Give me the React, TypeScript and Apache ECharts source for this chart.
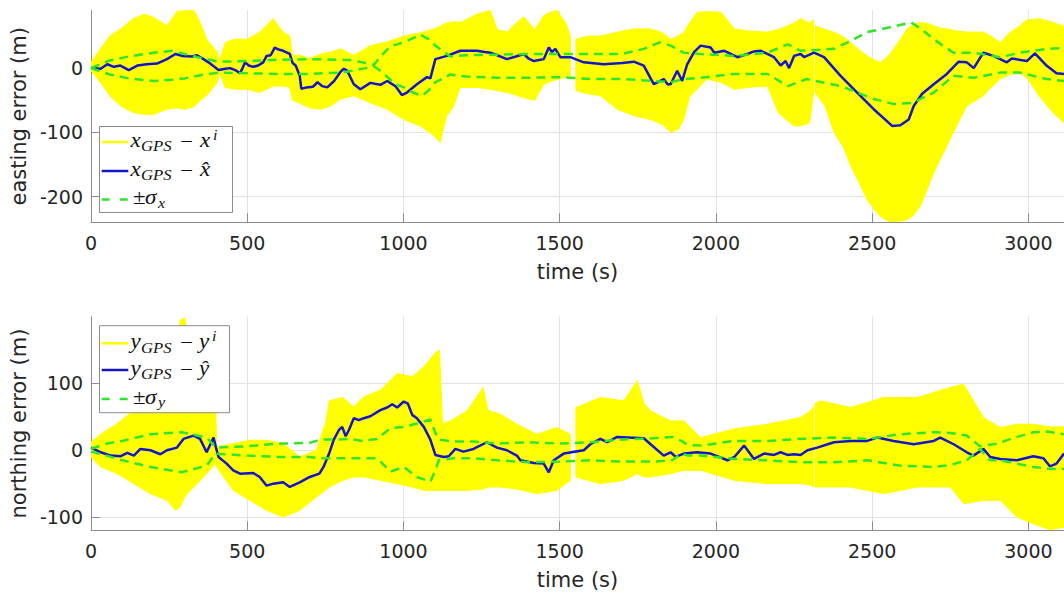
import React, { useEffect, useRef } from "react";
import * as echarts from "echarts";

// ---------- axes ----------
const X_MAX = 3114;
const xTicks = [0, 500, 1000, 1500, 2000, 2500, 3000];
const topYTicks = [-200, -100, 0];
const bottomYTicks = [-100, 0, 100];
const topYRange = [-240, 90];
const bottomYRange = [-120, 200];

// ---------- top (easting) ----------
// particle spread envelope: [time, upper, lower]
const topBand: [number, number | null, number | null][] = [
  [0, 9, -4], [30, 30, -22], [60, 50, -43], [95, 61, -59], [135, 77, -69], [170, 84, -72],
  [200, 79, -72], [243, 66, -64], [275, 88, -62], [300, 90, -64], [330, 90, -60], [350, 70, -50],
  [370, 45, -43], [405, 24, -22], [410, 11, -7], [430, 40, -30], [460, 45, -33], [500, 45, -33],
  [540, 56, -38], [583, 77, -28], [615, 56, -28], [636, 50, -30], [645, 20, -50], [670, 20, -55],
  [700, 15, -62], [735, 22, -64], [767, 25, -59], [799, 30, -48], [841, 20, -43], [894, 35, -54],
  [948, 41, -64], [1001, 50, -80], [1054, 55, -90], [1097, 61, -105], [1118, 65, -116], [1125, 68, -100],
  [1139, 70, -74], [1160, 72, -60], [1182, 71, -30], [1235, 84, -30], [1278, 90, -33], [1300, 60, -35],
  [1331, 56, -38], [1360, 70, -42], [1385, 80, -46], [1420, 60, -50], [1449, 82, -25], [1475, 88, -20],
  [1491, 90, -18], [1520, 70, -14], [1534, 50, -12], [1542, null, null], [1552, 45, -35], [1590, 50, -40],
  [1630, 50, -43], [1684, 56, -64], [1737, 61, -74], [1791, 61, -80], [1830, 55, -88], [1855, 45, -100],
  [1880, 50, -95], [1897, 56, -80], [1915, 70, -45], [1940, 87, -33], [1970, 88, -17], [2016, 87, -22],
  [2059, 61, -33], [2100, 58, -30], [2165, 56, -28], [2200, 60, -70], [2250, 70, -90], [2271, 77, -90],
  [2300, 70, -85], [2312, 75, -40], [2314, null, null], [2317, 66, -38], [2350, 60, -60], [2378, 56, -100],
  [2410, 48, -125], [2431, 40, -152], [2460, 28, -180], [2484, 19, -205], [2510, 12, -222], [2527, 9, -231],
  [2550, 18, -238], [2569, 30, -239], [2590, 45, -238], [2612, 61, -236], [2630, 68, -230], [2654, 71, -215],
  [2675, 70, -190], [2697, 66, -163], [2720, 62, -140], [2739, 61, -121], [2770, 58, -90], [2803, 56, -59],
  [2856, 56, -43], [2880, 50, -30], [2910, 40, -17], [2940, 55, -10], [2973, 66, -8], [2995, 75, -15],
  [3037, 77, -45], [3080, 71, -70], [3114, 65, -85],
];

const topEstimate: [number, number][] = [
  [0, 0], [31, -1], [52, 6], [73, 2], [94, 4], [121, -3], [148, 4], [179, 6], [211, 7], [243, 14],
  [270, 22], [291, 19], [323, 18], [339, 20], [360, 14], [376, 9], [408, -3], [430, -1], [445, 0],
  [465, -4], [477, -8], [485, 0], [493, 9], [505, 4], [519, 2], [535, 4], [551, 9], [562, 19], [575, 20],
  [588, 32], [600, 29], [615, 27], [636, 22], [645, 8], [655, 4], [668, -12], [673, -32], [690, -30],
  [710, -29], [725, -22], [740, -28], [756, -30], [778, -20], [800, -5], [809, -1], [820, -4], [841, -25],
  [862, -33], [894, -23], [926, -26], [948, -20], [974, -28], [995, -42], [1011, -38], [1043, -25],
  [1075, -14], [1086, -16], [1102, 14], [1139, 19], [1182, 27], [1210, 27], [1235, 27], [1260, 25],
  [1278, 24], [1300, 20], [1331, 14], [1360, 18], [1385, 22], [1400, 15], [1417, 11], [1449, 14],
  [1465, 32], [1475, 25], [1486, 30], [1502, 17], [1534, 17], [1577, 9], [1641, 6], [1700, 8], [1737, 10],
  [1769, 4], [1801, -25], [1833, -17], [1845, -25], [1855, -25], [1876, -4], [1892, -20], [1908, 6],
  [1930, 25], [1951, 35], [1983, 32], [1995, 24], [2027, 27], [2069, 17], [2100, 22], [2122, 26],
  [2144, 27], [2186, 17], [2207, 4], [2223, 11], [2234, 0], [2250, 19], [2271, 22], [2282, 17], [2314, 24],
  [2346, 17], [2399, -12], [2452, -38], [2505, -64], [2564, -90], [2590, -89], [2617, -80], [2633, -59],
  [2660, -40], [2697, -25], [2739, -9], [2777, 10], [2803, 9], [2825, 0], [2856, 24], [2888, 19],
  [2931, 9], [2947, 15], [2995, 11], [3021, 23], [3058, 4], [3090, -8], [3114, -9],
];

const topSigmaUpper: [number, number][] = [
  [0, 0], [60, 12], [120, 18], [200, 24], [260, 27], [300, 22], [350, 16], [410, 10], [500, 11],
  [600, 13], [700, 14], [800, 13], [836, 12], [879, 8], [905, 5], [930, 20], [958, 34], [1001, 40],
  [1054, 52], [1080, 45], [1102, 35], [1150, 18], [1200, 20], [1300, 21], [1400, 22], [1500, 22],
  [1600, 22], [1700, 22], [1769, 30], [1820, 40], [1855, 35], [1897, 24], [1952, 22], [2059, 19],
  [2165, 24], [2230, 37], [2271, 27], [2378, 30], [2430, 42], [2484, 56], [2560, 64], [2625, 71],
  [2660, 60], [2697, 45], [2760, 24], [2825, 24], [2910, 17], [2973, 24], [3058, 30], [3114, 31],
];
const topSigmaLower: [number, number][] = [
  [0, 0], [60, -10], [120, -16], [200, -20], [260, -18], [300, -16], [350, -11], [410, -7], [500, -8],
  [600, -9], [700, -9], [800, -7], [836, -4], [879, 0], [905, 3], [926, -4], [974, -25], [1001, -30],
  [1030, -38], [1059, -43], [1080, -35], [1102, -22], [1150, -10], [1200, -13], [1300, -15], [1400, -15],
  [1500, -14], [1600, -17], [1700, -17], [1800, -20], [1855, -22], [1897, -17], [1952, -15], [2059, -9],
  [2165, -9], [2230, -28], [2290, -17], [2400, -28], [2505, -48], [2570, -56], [2630, -54], [2697, -38],
  [2760, -12], [2825, -15], [2910, -7], [2973, -7], [3058, -17], [3114, -20],
];

// ---------- bottom (northing) ----------
const bottomBand: [number, number | null, number | null][] = [
  [0, 12, -10], [31, 24, -25], [84, 40, -35], [137, 60, -50], [190, 65, -65], [243, 80, -75],
  [270, 95, -90], [285, 195, -85], [300, 198, -70], [318, 150, -60], [340, 110, -50], [370, 100, -35],
  [398, 80, -20], [402, 5, -25], [455, 10, -60], [508, 15, -75], [562, 15, -90], [615, 10, -100],
  [668, -10, -90], [721, 0, -70], [750, 40, -60], [763, 74, -55], [806, 79, -45], [841, 65, -40],
  [873, 80, -40], [926, 90, -45], [980, 115, -50], [1028, 110, -55], [1065, 125, -60], [1100, 145, -60],
  [1115, 150, -60], [1125, 40, -60], [1150, 44, -60], [1203, 59, -60], [1255, 94, -58], [1270, 60, -55],
  [1310, 54, -55], [1363, 39, -58], [1427, 24, -65], [1491, 34, -60], [1534, 24, -45], [1542, null, null],
  [1552, 64, -40], [1630, 79, -50], [1705, 74, -45], [1748, 104, -35], [1770, 70, -40], [1791, 59, -40],
  [1855, 44, -35], [1897, 44, -30], [1951, 19, -30], [2059, 32, -45], [2165, 39, -50], [2271, 49, -50],
  [2303, 59, -52], [2312, 65, -55], [2314, null, null], [2317, 70, -55], [2335, 74, -55], [2431, 64, -55],
  [2537, 79, -65], [2644, 79, -55], [2750, 94, -55], [2793, 99, -80], [2856, 49, -75], [2910, 34, -75],
  [2963, 39, -100], [3016, 39, -110], [3069, 35, -119], [3114, 35, -115],
];

const bottomEstimate: [number, number][] = [
  [0, 4], [31, -3], [63, -8], [94, -9], [116, -4], [137, -8], [158, 2], [190, 0], [222, -6], [243, 0],
  [275, 4], [296, 17], [328, 22], [349, 17], [370, -3], [392, 19], [400, 4], [408, -10], [434, -20],
  [455, -30], [477, -35], [519, -34], [540, -40], [562, -53], [583, -50], [615, -48], [636, -55],
  [668, -48], [700, -40], [731, -35], [745, -24], [762, -5], [777, 16], [793, 30], [804, 35], [815, 21],
  [825, 30], [841, 48], [857, 45], [873, 48], [894, 51], [926, 60], [948, 64], [964, 69], [980, 64],
  [1001, 73], [1014, 70], [1028, 53], [1043, 48], [1065, 35], [1086, 16], [1102, -7], [1129, -10],
  [1145, -9], [1166, 2], [1192, -2], [1224, 2], [1267, 12], [1299, 4], [1331, 0], [1363, -8], [1374, -15],
  [1417, -19], [1449, -20], [1465, -33], [1481, -15], [1513, -5], [1577, 0], [1598, 9], [1630, 17],
  [1652, 12], [1684, 20], [1769, 18], [1791, 9], [1833, -8], [1855, -3], [1871, -10], [1897, -5],
  [1940, -3], [1983, -5], [2037, -15], [2059, -10], [2090, 7], [2122, -13], [2154, -5], [2186, -7],
  [2207, -3], [2229, -7], [2250, -6], [2271, -7], [2293, 0], [2324, 4], [2378, 12], [2431, 14],
  [2484, 14], [2516, 19], [2569, 14], [2633, 9], [2697, 14], [2718, 19], [2761, 9], [2803, -3],
  [2824, -8], [2856, 2], [2878, -10], [2910, -13], [2963, -15], [3016, -9], [3048, -12], [3069, -24],
  [3090, -20], [3114, -5],
];

const bottomSigmaUpper: [number, number][] = [
  [0, 2], [50, 10], [100, 14], [190, 24], [290, 27], [370, 19], [398, 5], [402, 4], [500, 6], [600, 10],
  [700, 11], [735, 16], [777, 16], [830, 17], [868, 14], [916, 17], [958, 33], [1001, 35], [1043, 40],
  [1086, 46], [1102, 26], [1113, 16], [1161, 13], [1224, 13], [1300, 10], [1400, 12], [1500, 10],
  [1600, 12], [1700, 16], [1800, 18], [1860, 20], [1890, 14], [1910, 8], [1952, 7], [2059, 14],
  [2165, 14], [2271, 17], [2378, 19], [2484, 17], [2590, 24], [2697, 27], [2750, 26], [2803, 22],
  [2845, 6], [2870, 8], [2900, 10], [2950, 18], [3016, 27], [3060, 28], [3114, 24],
];
const bottomSigmaLower: [number, number][] = [
  [0, -2], [50, -8], [100, -15], [190, -25], [290, -33], [370, -23], [398, -5], [500, -8], [600, -10],
  [700, -10], [735, -12], [868, -12], [916, -12], [958, -32], [1001, -25], [1043, -40], [1086, -47],
  [1102, -30], [1113, -15], [1161, -12], [1224, -12], [1300, -15], [1400, -18], [1500, -17], [1600, -15],
  [1700, -17], [1800, -17], [1860, -15], [1890, -5], [1910, -8], [1952, -8], [2059, -13], [2165, -15],
  [2271, -18], [2378, -18], [2484, -15], [2590, -23], [2697, -25], [2750, -22], [2803, -15], [2845, 2],
  [2877, -15], [2910, -15], [2963, -20], [3016, -25], [3069, -28], [3114, -28],
];

// ---------- styling ----------
const YELLOW = "#ffff00";
const BLUE = "#1414c8";
const GREEN = "#2ee62e";
const AXIS = "#8c8c8c";
const LABEL = "#262626";
const SANS = "DejaVu Sans";
const SERIF = "Liberation Serif";

function xAxisFor(gridIndex: number) {
  return {
    type: "value",
    gridIndex,
    min: 0,
    max: X_MAX,
    interval: 500,
    axisLine: { show: true, onZero: false, lineStyle: { color: AXIS, width: 1 } },
    axisTick: { show: true, inside: true, length: 9, customValues: xTicks, lineStyle: { color: AXIS } },
    axisLabel: {
      customValues: xTicks, color: LABEL, fontSize: 19, fontFamily: SANS, margin: 11,
      formatter: (v: number) => String(v),
    },
    splitLine: { show: true, lineStyle: { color: "#e3e3e3", width: 1 } },
    name: "time (s)",
    nameLocation: "middle",
    nameGap: 39,
    nameTextStyle: { color: LABEL, fontSize: 21, fontFamily: SANS },
  };
}

function yAxisFor(gridIndex: number, range: number[], ticks: number[], name: string) {
  return {
    type: "value",
    gridIndex,
    min: range[0],
    max: range[1],
    axisLine: { show: true, onZero: false, lineStyle: { color: AXIS, width: 1 } },
    axisTick: { show: true, inside: true, length: 9, customValues: ticks, lineStyle: { color: AXIS } },
    axisLabel: {
      customValues: ticks, color: LABEL, fontSize: 19, fontFamily: SANS, margin: 8,
      formatter: (v: number) => String(v),
    },
    splitLine: { show: true, lineStyle: { color: "#e3e3e3", width: 1 } },
    name,
    nameLocation: "middle",
    nameGap: 50,
    nameTextStyle: { color: LABEL, fontSize: 21, fontFamily: SANS },
  };
}

// split the envelope into continuous segments (gaps marked by nulls)
function segmentsOf(band: [number, number | null, number | null][]) {
  const segs: number[][] = [];
  let cur: number[] = [];
  band.forEach((row, i) => {
    if (row[1] == null || row[2] == null) {
      if (cur.length) segs.push(cur);
      cur = [];
    } else cur.push(i);
  });
  if (cur.length) segs.push(cur);
  return segs;
}

function bandSeries(band: [number, number | null, number | null][], idx: number) {
  const segs = segmentsOf(band);
  return {
    type: "custom",
    xAxisIndex: idx,
    yAxisIndex: idx,
    silent: true,
    clip: true,
    z: 1,
    data: segs.map((s) => [band[s[0]][0], band[s[0]][1]]),
    encode: { x: 0, y: 1 },
    renderItem: (params: any, api: any) => {
      const seg = segs[params.dataIndex];
      const pts: number[][] = [];
      seg.forEach((i) => pts.push(api.coord([band[i][0], band[i][1]])));
      for (let k = seg.length - 1; k >= 0; k--) {
        const i = seg[k];
        pts.push(api.coord([band[i][0], band[i][2]]));
      }
      return {
        type: "polygon",
        shape: { points: pts },
        style: { fill: YELLOW, stroke: YELLOW, lineWidth: 1 },
      };
    },
  };
}

function lineSeries(data: [number, number][], idx: number, color: string, dashed: boolean, z: number) {
  return {
    type: "line", xAxisIndex: idx, yAxisIndex: idx, data, symbol: "none", silent: true,
    lineStyle: { color, width: 2.5, type: dashed ? [9, 6] : "solid" }, z,
  };
}

// legend text piece: left x, baseline y
function piece(text: string, left: number, base: number, size: number, italic: boolean) {
  return {
    type: "text",
    x: left,
    y: base - 0.3 * size,
    scaleX: 1.15,
    z: 102,
    style: {
      text, fontSize: size, fontFamily: SERIF, fontStyle: italic ? "italic" : "normal",
      fill: "#111", align: "left", verticalAlign: "middle",
    },
  };
}

function legendGraphics(box: number[], rows: number[], sym: string, top: boolean) {
  const [bx, by, bw, bh] = box;
  const els: any[] = [
    { type: "rect", z: 100, shape: { x: bx, y: by, width: bw, height: bh }, style: { fill: "#fff", stroke: AXIS, lineWidth: 1 } },
    { type: "line", z: 101, shape: { x1: 101.7, y1: rows[0], x2: 128.3, y2: rows[0] }, style: { stroke: YELLOW, lineWidth: 2.5 } },
    { type: "line", z: 101, shape: { x1: 101.7, y1: rows[1], x2: 128.3, y2: rows[1] }, style: { stroke: BLUE, lineWidth: 2.5 } },
    { type: "line", z: 101, shape: { x1: 101.7, y1: rows[2], x2: 128.3, y2: rows[2] }, style: { stroke: GREEN, lineWidth: 2.5, lineDash: [8, 10] } },
  ];
  const b1 = rows[0] + 4.5;
  const b2 = rows[1] + 4.5;
  const b3 = rows[2] + 4.2;
  const farX = top ? 200 : 199;
  els.push(
    piece(sym, 130.5, b1, 20, true),
    piece("GPS", 141, b1 + 4, 14.5, true),
    piece("\u2212", 180, b1 + 1, 20, false),
    piece(sym, farX, b1, 20, true),
    piece("i", farX + 13, b1 - 7, 14, true),
    piece(sym, 130.5, b2, 20, true),
    piece("GPS", 141, b2 + 4, 14.5, true),
    piece("\u2212", 180, b2 + 1, 20, false),
    piece(sym + "\u0302", farX, b2, 20, true),
    piece("\u00b1", 133, b3, 20, false),
    piece("\u03c3", 145, b3, 20, true),
    piece(sym, 158, b3 + 3.5, 14, true),
  );
  return els;
}

export default function App() {
  const ref = useRef<HTMLDivElement>(null);
  useEffect(() => {
    if (!ref.current) return;
    const chart = echarts.init(ref.current, null, { renderer: "svg" });
    const option: any = {
      animation: false,
      grid: [
        { left: 90.3, top: 10.3, right: 0, height: 212, containLabel: false },
        { left: 90.3, top: 316.7, right: 0, height: 213.7, containLabel: false },
      ],
      xAxis: [xAxisFor(0), xAxisFor(1)],
      yAxis: [
        yAxisFor(0, topYRange, topYTicks, "easting error (m)"),
        yAxisFor(1, bottomYRange, bottomYTicks, "northing error (m)"),
      ],
      series: [
        bandSeries(topBand, 0),
        lineSeries(topEstimate, 0, BLUE, false, 3),
        lineSeries(topSigmaUpper, 0, GREEN, true, 4),
        lineSeries(topSigmaLower, 0, GREEN, true, 4),
        bandSeries(bottomBand, 1),
        lineSeries(bottomEstimate, 1, BLUE, false, 3),
        lineSeries(bottomSigmaUpper, 1, GREEN, true, 4),
        lineSeries(bottomSigmaLower, 1, GREEN, true, 4),
      ],
      graphic: [
        ...legendGraphics([99.5, 126.5, 133, 86], [142, 171, 199.5], "x", true),
        ...legendGraphics([99.5, 325.7, 130, 87], [343.3, 370, 399], "y", false),
      ],
    };
    chart.setOption(option);
    return () => chart.dispose();
  }, []);
  return (
    <div
      ref={ref}
      style={{ position: "fixed", left: 0, top: 0, width: 1064, height: 595, background: "#fff" }}
    />
  );
}
